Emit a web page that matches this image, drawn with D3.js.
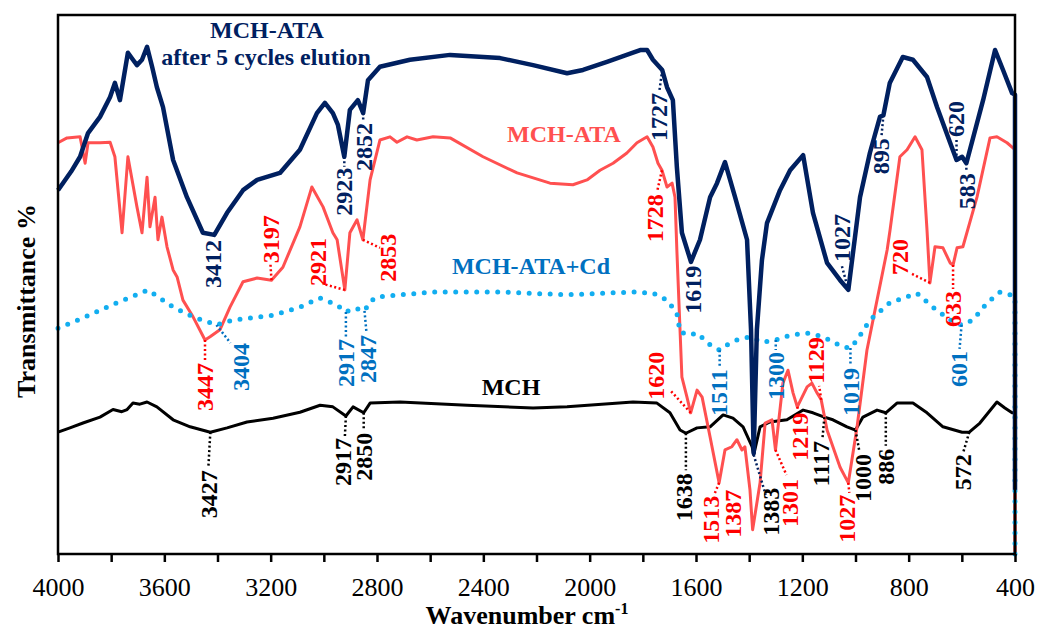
<!DOCTYPE html>
<html>
<head>
<meta charset="utf-8">
<style>
  body { margin: 0; background: #fff; }
  svg { display: block; font-family: 'Liberation Serif', 'Times New Roman', serif; }
</style>
</head>
<body>
<div id="chart"></div>
<script src="https://d3js.org/d3.v7.min.js"></script>
<script>
// spectra: [wavenumber, transmittance (arbitrary offset units)]
var mchAtaCycled = [[4000,67.5],[3950,71.0],[3917,73.7],[3887,78.1],[3842,81.1],[3804,84.8],[3786,87.4],[3767,84.2],[3737,93.0],[3718,91.7],[3703,90.7],[3684,91.7],[3665,94.1],[3646,90.4],[3628,86.6],[3605,82.9],[3567,73.1],[3515,66.2],[3455,59.6],[3412,59.2],[3364,63.3],[3304,67.5],[3251,69.4],[3165,70.7],[3090,75.0],[3026,81.8],[2996,83.7],[2966,81.8],[2947,79.6],[2923,73.7],[2902,82.4],[2872,84.2],[2852,81.8],[2834,87.9],[2789,90.4],[2676,91.7],[2525,92.6],[2337,92.0],[2213,90.7],[2085,89.2],[2025,89.8],[1935,91.3],[1837,93.0],[1810,93.5],[1784,93.5],[1762,91.7],[1727,89.8],[1709,86.6],[1687,84.2],[1672,71.8],[1653,59.6],[1619,54.2],[1585,58.3],[1547,66.2],[1521,68.8],[1491,72.7],[1453,66.2],[1408,58.3],[1393,41.6],[1383,18.7],[1371,41.6],[1352,54.5],[1333,61.4],[1284,67.5],[1246,71.2],[1197,74.0],[1160,63.3],[1107,54.0],[1058,50.8],[1027,49.0],[983,66.2],[946,74.4],[908,81.1],[895,81.4],[871,87.4],[822,92.2],[784,91.7],[731,88.5],[693,82.9],[644,76.3],[620,73.1],[599,73.7],[583,72.5],[520,84.2],[475,93.5],[445,89.8],[411,85.5],[400,85.2],[400,11.9]];

var mchAta = [[4000,76.3],[3966,77.2],[3917,77.4],[3898,72.5],[3887,76.3],[3842,76.3],[3804,76.4],[3786,73.7],[3759,59.6],[3737,73.7],[3703,64.4],[3684,59.6],[3665,69.9],[3654,60.7],[3635,66.2],[3624,58.3],[3609,62.5],[3590,57.0],[3567,52.7],[3552,51.4],[3530,47.1],[3492,44.0],[3447,39.7],[3428,40.3],[3391,41.6],[3353,45.8],[3304,50.5],[3251,51.2],[3197,50.8],[3154,53.2],[3090,60.7],[3045,68.1],[3003,64.4],[2966,59.6],[2950,58.3],[2921,49.0],[2902,59.6],[2875,62.0],[2853,58.3],[2826,69.4],[2789,76.8],[2751,77.4],[2725,76.4],[2687,77.4],[2650,76.8],[2589,77.4],[2525,77.2],[2401,73.7],[2273,70.7],[2149,68.8],[2063,68.5],[2010,69.4],[1961,71.2],[1912,72.5],[1860,74.4],[1822,76.3],[1784,77.4],[1762,75.5],[1743,72.5],[1728,71.2],[1709,68.1],[1690,68.8],[1679,66.2],[1672,56.4],[1653,32.8],[1634,29.1],[1620,26.2],[1596,30.4],[1577,29.1],[1547,21.7],[1513,13.2],[1491,19.3],[1465,19.9],[1446,21.2],[1427,19.3],[1416,19.9],[1397,11.9],[1387,4.5],[1359,13.2],[1340,24.3],[1314,24.9],[1301,19.3],[1273,31.7],[1254,34.1],[1235,29.9],[1219,27.3],[1182,31.0],[1164,31.7],[1145,29.9],[1129,28.6],[1107,23.0],[1058,16.1],[1027,13.2],[994,23.6],[957,37.8],[919,47.1],[881,56.4],[870,60.1],[833,73.7],[806,75.0],[776,77.4],[750,75.0],[731,60.1],[720,50.3],[701,57.0],[671,56.8],[644,54.0],[633,53.6],[618,56.8],[596,57.0],[543,66.2],[494,77.2],[468,77.4],[430,76.3],[411,75.5],[400,75.0],[400,0]];

var mchAtaCd = [[4000,41.9],[3906,43.8],[3778,46.6],[3661,49.0],[3567,45.8],[3492,44.0],[3404,42.5],[3342,43.4],[3191,44.3],[3090,45.8],[3014,47.5],[2950,46.2],[2917,44.9],[2883,45.6],[2847,45.1],[2826,46.8],[2800,47.7],[2589,48.6],[2337,48.6],[2085,48.1],[1837,48.6],[1762,48.4],[1709,47.1],[1672,44.7],[1660,41.2],[1623,40.6],[1596,41.0],[1547,38.8],[1511,37.8],[1483,38.8],[1446,39.7],[1397,40.3],[1348,39.3],[1300,39.7],[1246,40.6],[1182,41.0],[1122,40.3],[1047,38.4],[1019,38.2],[994,39.7],[946,43.4],[871,46.6],[769,48.4],[709,45.8],[644,43.4],[601,42.5],[558,43.4],[505,46.6],[456,48.6],[419,48.1],[400,47.7],[400,0]];

var mch = [[4000,22.6],[3955,23.4],[3906,24.3],[3842,25.4],[3793,26.8],[3760,26.4],[3740,26.8],[3718,28.0],[3692,27.8],[3665,28.2],[3628,27.3],[3567,24.9],[3503,23.6],[3427,22.6],[3364,23.4],[3289,24.5],[3191,25.2],[3090,26.3],[3014,27.6],[2966,27.3],[2917,25.6],[2890,27.3],[2850,26.2],[2826,28.0],[2713,28.2],[2461,27.6],[2213,27.1],[2085,27.3],[1837,28.2],[1747,28.0],[1698,26.2],[1660,23.0],[1638,22.4],[1596,23.4],[1547,23.6],[1498,25.8],[1461,25.2],[1423,23.6],[1389,19.9],[1383,18.4],[1359,23.6],[1322,24.5],[1258,24.9],[1197,26.7],[1160,26.2],[1117,25.4],[1085,24.9],[1032,23.6],[1000,23.0],[972,25.4],[919,26.7],[886,26.2],[844,28.0],[784,28.0],[731,26.2],[671,23.6],[599,22.6],[572,22.6],[532,24.3],[468,28.2],[438,27.1],[411,26.2],[400,26.2],[400,0]];

// labelled peaks per spectrum
var peaksCycled = [3412, 2923, 2852, 1727, 1619, 1027, 895, 620, 583];
var peaksMchAta = [3447, 3197, 2921, 2853, 1728, 1620, 1513, 1387, 1301, 1219, 1129, 1027, 720, 633];
var peaksCd = [3404, 2917, 2847, 1511, 1300, 1019, 601];
var peaksMch = [3427, 2917, 2850, 1638, 1383, 1117, 1000, 886, 572];

var xTicks = d3.range(400, 4001, 200);
var xTickLabels = [4000, 3600, 3200, 2800, 2400, 2000, 1600, 1200, 800, 400];

// label layout: leader end dx,dy / text dx,dy / side (b = below, a = above), px offsets from the peak
var layoutCycled = [[-1,4,-2,5,'b'],[0,10,-1,11,'b'],[0,9,0,10,'b'],[-3,22,-4,23,'b'],[2,3,2,4,'b'],[-7,-26,-7,-28,'a'],[-2,22,-3,23,'b'],[0,-22,-1,-23,'a'],[0,9,0,10,'b']];
var layoutMchAta = [[0,22,0,23,'b'],[-1,-16,-1,-17,'a'],[-22,-6,-27,-4,'a'],[17,8,25,-6,'b'],[-5,22,-7,24,'b'],[-20,-22,-35,-13,'a'],[-5,12,-9,13,'b'],[0,0,-20,-40,'b'],[11,25,14,29,'b'],[1,4,2,6,'b'],[-2,-14,-6,-16,'a'],[1,10,-2,12,'b'],[-20,-10,-30,-8,'a'],[0,24,0,26,'b']];
var layoutCd = [[14,18,24,18,'b'],[0,25,0,27,'b'],[2,22,3,24,'b'],[0,17,-1,19,'b'],[0,10,0,12,'b'],[0,18,0,20,'b'],[-2,24,-3,26,'b']];
var layoutMch = [[-2,36,-2,38,'b'],[-1,20,-3,22,'b'],[0,18,0,20,'b'],[0,37,-2,40,'b'],[12,40,17,33,'b'],[-2,22,-4,24,'b'],[4,22,7,24,'b'],[0,33,0,36,'b'],[-6,20,-7,22,'b']];
// the 1383 band is marked on the cycled (navy) spike
var leaderColorMch = {1383: '#002060'};

var W = 1037, H = 637;
var plotL = 58, plotR = 1015, plotT = 15, plotB = 554;

var svg = d3.select('#chart').append('svg')
    .attr('width', W)
    .attr('height', H);

var x = d3.scaleLinear().domain([4000, 400]).range([plotL, plotR]);
var y = d3.scaleLinear().domain([0, 100]).range([plotB, plotT]);

function valueAt(series, wn) {
  for (var i = 0; i < series.length - 1; i++) {
    var a = series[i], b = series[i + 1];
    if (wn <= a[0] && wn >= b[0]) {
      if (a[0] === b[0]) return a[1];
      var t = (a[0] - wn) / (a[0] - b[0]);
      return a[1] + t * (b[1] - a[1]);
    }
  }
  return series[series.length - 1][1];
}

var line = d3.line()
    .x(d => x(d[0]))
    .y(d => y(d[1]));

// spectra
svg.append('path').datum(mch)
    .attr('d', line).attr('fill', 'none')
    .attr('stroke', '#000').attr('stroke-width', 3)
    .attr('stroke-linejoin', 'round');

svg.append('path').datum(mchAta)
    .attr('d', line).attr('fill', 'none')
    .attr('stroke', '#ff5050').attr('stroke-width', 3)
    .attr('stroke-linejoin', 'round');

svg.append('path').datum(mchAtaCd)
    .attr('d', line).attr('fill', 'none')
    .attr('stroke', '#12aef0').attr('stroke-width', 5)
    .attr('stroke-linecap', 'round')
    .attr('stroke-dasharray', '0 10.5');

svg.append('path').datum(mchAtaCycled)
    .attr('d', line).attr('fill', 'none')
    .attr('stroke', '#002060').attr('stroke-width', 4.5)
    .attr('stroke-linejoin', 'round');

// frame
svg.append('rect')
    .attr('x', plotL).attr('y', plotT)
    .attr('width', plotR - plotL).attr('height', plotB - plotT)
    .attr('fill', 'none').attr('stroke', '#000').attr('stroke-width', 2.5);

// x axis
var xAxis = svg.append('g')
    .attr('transform', 'translate(0,' + plotB + ')')
    .call(d3.axisBottom(x).tickValues(xTicks).tickSize(8)
      .tickFormat(d => xTickLabels.indexOf(d) >= 0 ? d : ''));
xAxis.select('.domain').remove();
xAxis.selectAll('.tick line').attr('stroke', '#000').attr('stroke-width', 2.5);
xAxis.selectAll('.tick text')
    .attr('y', 42).attr('dy', 0)
    .attr('font-family', "'Liberation Serif', 'Times New Roman', serif")
    .attr('font-size', 26).attr('fill', '#000');

svg.append('text')
    .attr('x', 527).attr('y', 624)
    .attr('text-anchor', 'middle')
    .attr('font-size', 26).attr('font-weight', 'bold')
    .text('Wavenumber  cm')
    .append('tspan').attr('dy', -10).attr('font-size', 16).text('-1');

svg.append('text')
    .attr('transform', 'translate(35,301) rotate(-90)')
    .attr('text-anchor', 'middle')
    .attr('font-size', 26).attr('font-weight', 'bold')
    .text('Transmittance  %');

// peak labels
function drawPeaks(series, peaks, layout, color, leaderColors) {
  var g = svg.append('g');
  peaks.forEach(function (wn, i) {
    var L = layout[i];
    var cx = x(wn), cy = y(valueAt(series, wn));
    if (L[0] !== 0 || L[1] !== 0) {
      g.append('line')
          .attr('x1', cx).attr('y1', cy)
          .attr('x2', cx + L[0]).attr('y2', cy + L[1])
          .attr('stroke', (leaderColors && leaderColors[wn]) || color)
          .attr('stroke-width', 2.5)
          .attr('stroke-dasharray', '2,2.5');
    }
    g.append('text')
        .attr('transform', 'translate(' + (cx + L[2]) + ',' + (cy + L[3]) + ') rotate(-90)')
        .attr('text-anchor', L[4] === 'b' ? 'end' : 'start')
        .attr('dy', '0.35em')
        .attr('font-size', 24).attr('font-weight', 'bold')
        .attr('fill', color)
        .text(wn);
  });
}

drawPeaks(mchAtaCycled, peaksCycled, layoutCycled, '#002060');
drawPeaks(mchAta, peaksMchAta, layoutMchAta, '#ff0000');
drawPeaks(mchAtaCd, peaksCd, layoutCd, '#0070c0');
drawPeaks(mch, peaksMch, layoutMch, '#000', leaderColorMch);

// series names
var names = [
  {t: 'MCH-ATA', x: 267, y: 38, c: '#002060'},
  {t: 'after 5 cycles elution', x: 266, y: 65, c: '#002060'},
  {t: 'MCH-ATA', x: 564, y: 142, c: '#ff5050'},
  {t: 'MCH-ATA+Cd', x: 531, y: 274, c: '#0070c0'},
  {t: 'MCH', x: 511, y: 395, c: '#000'}
];
svg.append('g').selectAll('text')
    .data(names)
    .enter().append('text')
    .attr('x', d => d.x).attr('y', d => d.y)
    .attr('text-anchor', 'middle')
    .attr('font-size', 24).attr('font-weight', 'bold')
    .attr('fill', d => d.c)
    .text(d => d.t);
</script>
</body>
</html>
